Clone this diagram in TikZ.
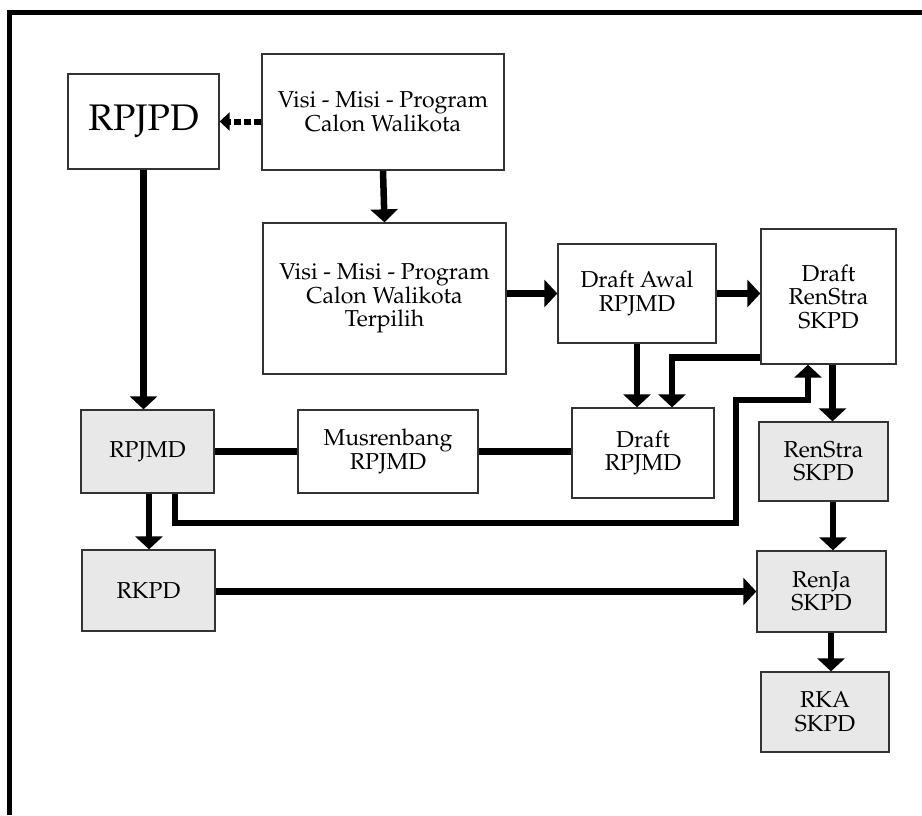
\documentclass[tikz,border=0pt]{standalone}
\usepackage[T1]{fontenc}
\usepackage{mathpazo}
\usepackage{xcolor}
\usepackage{tikz}
\usetikzlibrary{arrows.meta}
\definecolor{boxgrey}{HTML}{E8E8E8}
\tikzset{
    boxnode/.style = {align=center, inner sep=0pt, text centered, rectangle, draw=black!80, line width=1.3pt, font=\fontsize{23}{23.5}\selectfont},
    white_box/.style = {boxnode, fill=white},
    grey_box/.style = {boxnode, fill=boxgrey},
    big_box/.style = {white_box, font=\fontsize{37}{40}\selectfont}
}

\begin{document}
\begin{tikzpicture}
            [x=1pt, y=-1pt,
            flow_arrow/.style={line width=6.5pt, -{Triangle[length=13pt, width=27pt]}},
            dash_arrow/.style={line width=6pt, dash pattern=on 7pt off 3pt, -{Triangle[length=10pt, width=18pt]}},
            plain_link/.style={line width=6.5pt}]

            \useasboundingbox (0,0) rectangle (922,815);
            % frame
            \draw [line width=4.5pt] (9.5,815) -- (9.5,12.5) -- (922,12.5);

            % top row
            \node [big_box, minimum width=151pt, minimum height=95pt] (rpjpd) at (143.5,121.5) {RPJPD};
            \node [white_box, minimum width=242pt, minimum height=116pt] (visi) at (383,112) {Visi - Misi - Program\\Calon Walikota};
            \node [white_box, minimum width=243pt, minimum height=151pt] (visi_terpilih) at (384.5,298.5) {Visi - Misi - Program\\Calon Walikota\\Terpilih};
            \node [white_box, minimum width=158pt, minimum height=99pt] (draft_awal) at (637,293.5) {Draft Awal\\RPJMD};
            \node [white_box, minimum width=135pt, minimum height=135pt] (draft_renstra) at (828.5,296.5) {Draft\\RenStra\\SKPD};

            % middle row
            \node [grey_box, minimum width=133pt, minimum height=83pt] (rpjmd) at (147.5,451.5) {RPJMD};
            \node [white_box, minimum width=180pt, minimum height=83pt] (musrenbang) at (388,451.5) {Musrenbang\\RPJMD};
            \node [white_box, minimum width=142pt, minimum height=90pt] (draft_rpjmd) at (643,453) {Draft\\RPJMD};
            \node [grey_box, minimum width=129pt, minimum height=79pt] (renstra) at (823.5,461.5) {RenStra\\SKPD};

            % bottom row
            \node [grey_box, minimum width=133pt, minimum height=81pt] (rkpd) at (148.5,590.5) {RKPD};
            \node [grey_box, minimum width=129pt, minimum height=81pt] (renja) at (821.5,591.5) {RenJa\\SKPD};
            \node [grey_box, minimum width=128pt, minimum height=80pt] (rka) at (825,712) {RKA\\SKPD};

            \coordinate (bend_low) at (736,523);
            \coordinate (bend_up) at (736,400);

            % connectors
            \draw [dash_arrow] (visi.west |- rpjpd.east) -- (rpjpd.east);
            \draw [flow_arrow] (visi.south) -- (visi_terpilih.north);
            \draw [flow_arrow] (rpjpd.south) -- (rpjpd.south |- rpjmd.north);
            \draw [flow_arrow] (visi_terpilih.east |- draft_awal.west) -- (draft_awal.west);
            \draw [flow_arrow] (draft_awal.east) -- (draft_awal.east -| draft_renstra.west);
            \draw [flow_arrow] (draft_awal.south) -- (draft_awal.south |- draft_rpjmd.north);
            \draw [flow_arrow] ([yshift=7pt]draft_renstra.south west) -| ([xshift=29pt]draft_rpjmd.north);
            \draw [plain_link] (rpjmd.east) -- (musrenbang.west);
            \draw [plain_link] (musrenbang.east) -- (musrenbang.east -| draft_rpjmd.west);
            \draw [flow_arrow] ([xshift=27.5pt]rpjmd.south) |- (bend_low) -- (bend_up) -| ([xshift=-20.5pt]draft_renstra.south);
            \draw [flow_arrow] ([xshift=1.5pt]rpjmd.south) -- ([xshift=1.5pt]rpjmd.south |- rkpd.north);
            \draw [flow_arrow] ([xshift=4pt]draft_renstra.south) -- ([xshift=4pt]draft_renstra.south |- renstra.north);
            \draw [flow_arrow] ([xshift=9.5pt]renstra.south) -- ([xshift=9.5pt]renstra.south |- renja.north);
            \draw [flow_arrow] ([xshift=9.5pt]renja.south) -- ([xshift=9.5pt]renja.south |- rka.north);
            \draw [flow_arrow] (rkpd.east |- renja.west) -- (renja.west);
        \end{tikzpicture}
\end{document}
